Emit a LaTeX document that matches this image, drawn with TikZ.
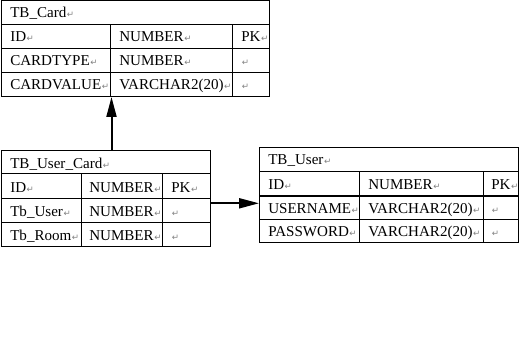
\documentclass[tikz,border=0pt]{standalone}
\usepackage{fontspec}
\setmainfont{Liberation Serif}
\newfontfamily\markfont{DejaVu Sans}
\usepackage{tikz}
\usepackage{xcolor}
\usetikzlibrary{arrows.meta,positioning,calc}

\definecolor{markgray}{RGB}{128,128,128}
\newcommand{\parmark}{\kern0.4pt{\markfont\fontsize{6.5}{6.5}\selectfont\textcolor{markgray}{↵}}}

\tikzset{
    gridline/.style={line width=0.75pt, black},
    cell/.style={anchor=base west, inner sep=0pt, font=\fontsize{11.3}{13}\selectfont},
    link/.style={line width=1.5pt, -{Triangle[length=15pt,width=7.5pt]}}
}

\begin{document}
\begin{tikzpicture}[x=0.75pt,y=-0.75pt]
        \useasboundingbox (0,0) rectangle (520,363);

        \draw[gridline] (1,1) rectangle (269,97);
        \foreach \y in {25,49,73} \draw[gridline] (1,\y) -- (269,\y);
        \foreach \x in {110,232} \draw[gridline] (\x,25) -- (\x,97);
        \node[cell] (card) at (10,18) {TB\_Card\parmark};
        \foreach \a/\b/\c [count=\i] in {ID/NUMBER/PK, CARDTYPE/NUMBER/, CARDVALUE/VARCHAR2(20)/} {
            \pgfmathsetmacro\yb{17.7+24*\i}
            \node[cell] (card-a\i) at (10,\yb) {\a\parmark};
            \node[cell] (card-b\i) at (119,\yb) {\b\parmark};
            \node[cell] (card-c\i) at (241,\yb) {\c\parmark};
        }

        \draw[gridline] (1,151) rectangle (210,246);
        \foreach \y in {174,198,222} \draw[gridline] (1,\y) -- (210,\y);
        \foreach \x in {81,162} \draw[gridline] (\x,174) -- (\x,246);
        \node[cell] (ucard) at (10,168.5) {TB\_User\_Card\parmark};
        \foreach \a/\b/\c [count=\i] in {ID/NUMBER/PK, Tb\_User/NUMBER/, Tb\_Room/NUMBER/} {
            \pgfmathsetmacro\yb{168+24*\i}
            \node[cell] (ucard-a\i) at (10,\yb) {\a\parmark};
            \node[cell] (ucard-b\i) at (89,\yb) {\b\parmark};
            \node[cell] (ucard-c\i) at (171,\yb) {\c\parmark};
        }

        \draw[gridline] (259,148) rectangle (518,242);
        \foreach \y in {172,196,219} \draw[gridline] (259,\y) -- (518,\y);
        \foreach \x in {359,483} \draw[gridline] (\x,172) -- (\x,242);
        \node[cell] (user) at (268,165) {TB\_User\parmark};
        \foreach \a/\b/\c/\yb [count=\i] in {ID/NUMBER/PK/189.3, USERNAME/VARCHAR2(20)//213, PASSWORD/VARCHAR2(20)//236.7} {
            \node[cell] (user-a\i) at (268,\yb) {\a\parmark};
            \node[cell] (user-b\i) at (368,\yb) {\b\parmark};
            \node[cell] (user-c\i) at (491,\yb) {\c\parmark};
        }

        \coordinate (card-foot) at (111.5,97);
        \coordinate (ucard-top) at (111.5,151);
        \coordinate (ucard-side) at (210,203.3);
        \coordinate (user-side) at (259,203.3);
        \draw[link] (ucard-top) -- (card-foot);
        \draw[link] (ucard-side) -- (user-side);
    \end{tikzpicture}
\end{document}
